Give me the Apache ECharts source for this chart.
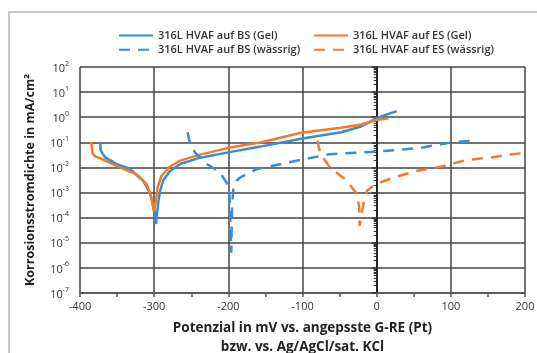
<!DOCTYPE html>
<html>
<head>
<meta charset="utf-8">
<script src="https://cdn.jsdelivr.net/npm/echarts@6/dist/echarts.min.js"></script>
<style>
  html, body { margin: 0; padding: 0; background: #fff; }
  #chart { width: 537px; height: 353px; }
</style>
</head>
<body>
<div id="chart"></div>
<script>
// Potential in mV, current density in mA/cm2
const bsGelX = [-373, -372, -366, -351, -333, -315, -306, -300.5, -297.5, -295, -292, -288, -279, -265, -238, -200, -157, -102, -48, -21, 1, 27];
const bsGelY = [0.105, 0.047, 0.025, 0.0138, 0.0089, 0.00295, 0.001, 0.0003, 0.000056, 0.0003, 0.00117, 0.00295, 0.0071, 0.0138, 0.0245, 0.0398, 0.0676, 0.138, 0.251, 0.427, 0.955, 1.74];

const esGelX = [-385, -383, -379, -373, -360, -346, -324, -310, -304.5, -300.5, -297.5, -295.5, -290, -279, -265, -238, -200, -157, -102, -48, -21, 1, 16];
const esGelY = [0.105, 0.0355, 0.0269, 0.0234, 0.0155, 0.01, 0.00537, 0.00214, 0.00074, 0.000186, 0.00047, 0.00158, 0.00468, 0.0107, 0.0186, 0.0324, 0.0603, 0.0977, 0.24, 0.38, 0.513, 0.794, 0.912];

const bsAqX = [-255, -252, -245, -229, -211, -200, -198.5, -197.5, -197, -196, -195, -193, -189, -184, -162, -108, -63, 1, 59, 102, 131];
const bsAqY = [0.251, 0.1, 0.0398, 0.0138, 0.0063, 0.00186, 0.00074, 0.000186, 0.0000295, 0.000004, 0.000316, 0.00158, 0.00295, 0.00398, 0.0085, 0.0186, 0.0339, 0.0427, 0.0603, 0.1, 0.117];

const esAqX = [-80, -76, -63, -40, -26.5, -23.5, -23, -17.5, -13, -2, 23, 55, 86, 122, 154, 185, 200];
const esAqY = [0.117, 0.0355, 0.01, 0.00295, 0.00087, 0.000251, 0.000047, 0.000398, 0.00117, 0.00214, 0.00398, 0.0074, 0.0107, 0.02, 0.0251, 0.0339, 0.038];

const seriesNames = ['316L HVAF auf BS (Gel)', '316L HVAF auf ES (Gel)', '316L HVAF auf BS (wässrig)', '316L HVAF auf ES (wässrig)'];

const blue = '#3a8bd8';
const orange = '#f27b2b';
const font = '"Open Sans", sans-serif';

function zip(xs, ys) {
  return xs.map((x, i) => [x, ys[i]]);
}

function lineSeries(name, xs, ys, color, dashed) {
  return {
    name: name,
    type: 'line',
    symbol: 'none',
    data: zip(xs, ys),
    lineStyle: {
      color: color,
      width: 2.5,
      type: dashed ? [11, 8] : 'solid'
    },
    itemStyle: { color: color }
  };
}

const legendBase = {
  orient: 'vertical',
  top: 25,
  itemWidth: 34,
  itemHeight: 14,
  itemGap: 3,
  // hide the circle marker, keep only the line
  itemStyle: { color: 'rgba(0,0,0,0)', borderWidth: 0 },
  textStyle: { fontFamily: font, fontWeight: 600, fontSize: 11, color: '#333' }
};

const chart = echarts.init(document.getElementById('chart'));

chart.setOption({
  animation: false,
  textStyle: { fontFamily: font },
  graphic: [
    {
      type: 'rect',
      shape: { x: 9, y: 12, width: 600, height: 400 },
      style: { fill: 'none', stroke: '#b5b5b5', lineWidth: 1.5 },
      silent: true,
      z: -10
    }
  ],
  legend: [
    Object.assign({}, legendBase, { left: 113, data: [seriesNames[0], seriesNames[2]] }),
    Object.assign({}, legendBase, { left: 308, data: [seriesNames[1], seriesNames[3]] })
  ],
  grid: {
    left: 80,
    right: 12,
    top: 67,
    bottom: 60,
    outerBoundsMode: 'none'
  },
  xAxis: {
    type: 'value',
    min: -400,
    max: 200,
    interval: 100,
    name: 'Potenzial in mV vs. angepsste G-RE (Pt)\nbzw. vs. Ag/AgCl/sat. KCl',
    nameLocation: 'middle',
    nameGap: 26,
    nameMoveOverlap: false,
    nameTextStyle: {
      fontFamily: font,
      fontWeight: 'bold',
      fontSize: 13.5,
      color: '#222',
      lineHeight: 19
    },
    axisLine: { show: true, onZero: false, lineStyle: { color: '#555', width: 1.5 } },
    axisTick: { show: true, inside: false, length: 4, lineStyle: { color: '#555', width: 1.5 } },
    minorTick: { show: true, splitNumber: 2, length: 4, lineStyle: { color: '#555', width: 1.5 } },
    axisLabel: { fontSize: 11, color: '#333', margin: 8 },
    splitLine: { show: true, lineStyle: { color: '#444', width: 1.5 } }
  },
  yAxis: {
    type: 'log',
    logBase: 10,
    min: 1e-7,
    max: 100,
    splitNumber: 9,
    name: 'Korrosionsstromdichte in mA/cm²',
    nameLocation: 'middle',
    nameGap: 43,
    nameMoveOverlap: false,
    nameTextStyle: {
      fontFamily: font,
      fontWeight: 'bold',
      fontSize: 12.5,
      color: '#222'
    },
    axisLine: { show: true, lineStyle: { color: '#222', width: 2 } },
    axisTick: { show: true, inside: false, length: 5, lineStyle: { color: '#333', width: 1.5 } },
    minorTick: { show: true, splitNumber: 9, length: 3, lineStyle: { color: '#333', width: 1 } },
    axisLabel: {
      margin: 11,
      formatter: function (v) {
        const e = Math.round(Math.log10(v));
        return '{b|10}{s|' + e + '}';
      },
      rich: {
        b: { fontSize: 11, color: '#333', fontFamily: font, lineHeight: 14, verticalAlign: 'bottom' },
        s: { fontSize: 7, color: '#333', fontFamily: font, lineHeight: 14, verticalAlign: 'top' }
      }
    },
    splitLine: { show: true, lineStyle: { color: '#444', width: 1.5 } }
  },
  series: [
    lineSeries(seriesNames[0], bsGelX, bsGelY, blue, false),
    lineSeries(seriesNames[1], esGelX, esGelY, orange, false),
    lineSeries(seriesNames[2], bsAqX, bsAqY, blue, true),
    lineSeries(seriesNames[3], esAqX, esAqY, orange, true)
  ]
});
</script>
</body>
</html>
